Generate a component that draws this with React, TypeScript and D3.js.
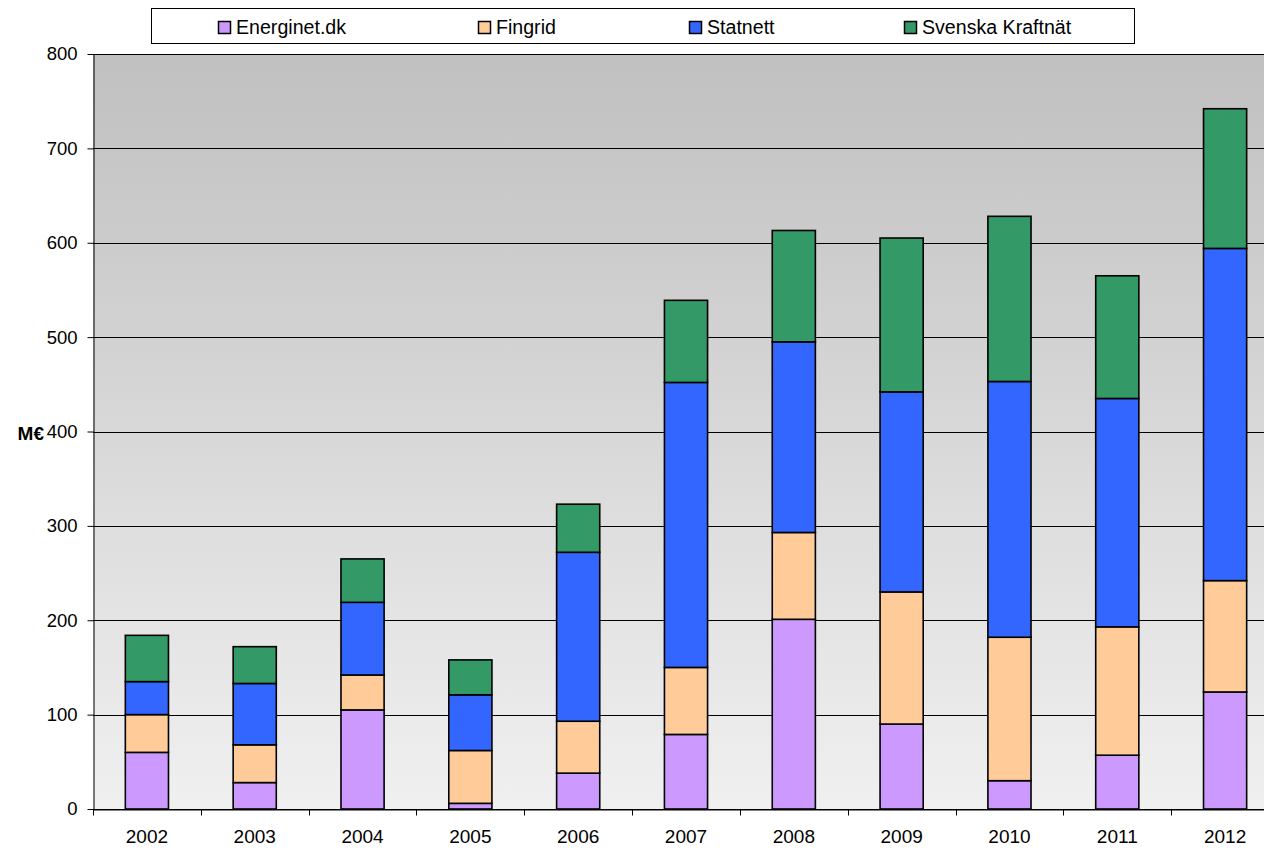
import * as d3 from 'd3';
import { useEffect, useRef } from 'react';

const width = 1264;
const height = 850;
const margin = { top: 54, left: 93, bottom: 41, right: -15 };

const years = ['2002', '2003', '2004', '2005', '2006', '2007', '2008', '2009', '2010', '2011', '2012'];
const seriesNames = ['Energinet.dk', 'Fingrid', 'Statnett', 'Svenska Kraftnät'];
const colors = ['#cc99ff', '#ffcc99', '#3366ff', '#339966'];

const energinet = [60, 28, 105, 6, 38, 79, 201, 90, 30, 57, 124];
const fingrid = [40, 40, 37, 56, 55, 71, 92, 140, 152, 136, 118];
const statnett = [35, 65, 77, 59, 179, 302, 202, 212, 271, 242, 352];
const svenska = [49, 39, 46, 37, 51, 87, 118, 163, 175, 130, 148];
const yTicks = [0, 100, 200, 300, 400, 500, 600, 700, 800];

const legendX = [218, 478, 689, 904];
const font = 'Liberation Sans, Arial, sans-serif';

function App() {
  const ref = useRef<SVGSVGElement>(null);

  useEffect(() => {
    const svg = d3.select(ref.current);
    svg.selectAll('*').remove();

    const rows = years.map((y, i) => ({
      year: y,
      'Energinet.dk': energinet[i],
      Fingrid: fingrid[i],
      Statnett: statnett[i],
      'Svenska Kraftnät': svenska[i],
    }));

    const x = d3
      .scaleBand()
      .domain(years)
      .range([margin.left, width - margin.right])
      .padding(0);
    const y = d3
      .scaleLinear()
      .domain([0, 800])
      .range([height - margin.bottom, margin.top]);

    const defs = svg.append('defs');
    const grad = defs
      .append('linearGradient')
      .attr('id', 'bg')
      .attr('x1', 0)
      .attr('y1', 0)
      .attr('x2', 0)
      .attr('y2', 1);
    grad.append('stop').attr('offset', '0%').attr('stop-color', '#c0c0c0');
    grad.append('stop').attr('offset', '100%').attr('stop-color', '#f0f0f0');

    svg
      .append('rect')
      .attr('x', margin.left)
      .attr('y', margin.top)
      .attr('width', width - margin.right - margin.left)
      .attr('height', y(0) - margin.top)
      .attr('fill', 'url(#bg)');

    // gridlines
    svg
      .append('g')
      .selectAll('line')
      .data(yTicks)
      .join('line')
      .attr('x1', margin.left)
      .attr('x2', width - margin.right)
      .attr('y1', (d) => Math.round(y(d)) + 0.5)
      .attr('y2', (d) => Math.round(y(d)) + 0.5)
      .attr('stroke', '#000')
      .attr('stroke-width', 1);

    const yAxis = svg
      .append('g')
      .attr('transform', `translate(${margin.left + 0.5},0)`)
      .call(d3.axisLeft(y).tickValues(yTicks).tickSize(6).tickPadding(10).tickSizeOuter(0));
    yAxis.select('.domain').attr('stroke', '#000');
    yAxis
      .selectAll('.tick text')
      .attr('font-size', 18.5)
      .attr('font-family', font)
      .attr('fill', '#000');

    // x axis baseline and boundary ticks
    const xAxis = svg.append('g').attr('transform', `translate(0,${Math.round(y(0)) + 0.5})`);
    xAxis
      .call(d3.axisBottom(x).tickSize(0).tickPadding(20).tickSizeOuter(0))
      .selectAll('.tick text')
      .attr('font-size', 19)
      .attr('font-family', font)
      .attr('fill', '#000');
    xAxis.select('.domain').attr('stroke', '#000');
    xAxis
      .append('g')
      .selectAll('line')
      .data(years)
      .join('line')
      .attr('x1', (d) => Math.round(x(d) || 0) + 0.5)
      .attr('x2', (d) => Math.round(x(d) || 0) + 0.5)
      .attr('y1', 0)
      .attr('y2', 6)
      .attr('stroke', '#000');

    // bars
    const stacked = d3.stack<any>().keys(seriesNames)(rows);
    const barW = x.bandwidth() * 0.4;
    svg
      .append('g')
      .selectAll('g')
      .data(stacked)
      .join('g')
      .attr('fill', (_, i) => colors[i])
      .selectAll('rect')
      .data((d) => d)
      .join('rect')
      .attr('x', (d) => (x(d.data.year) || 0) + (x.bandwidth() - barW) / 2)
      .attr('y', (d) => y(d[1]))
      .attr('width', barW)
      .attr('height', (d) => y(d[0]) - y(d[1]))
      .attr('stroke', '#000')
      .attr('stroke-width', 1.6);

    // y label
    svg
      .append('text')
      .attr('x', 44)
      .attr('y', y(400) + 8)
      .attr('text-anchor', 'end')
      .attr('font-size', 19)
      .attr('font-weight', 'bold')
      .attr('font-family', font)
      .text('M€');

    // legend
    const legend = svg.append('g');
    legend
      .append('rect')
      .attr('x', 151.5)
      .attr('y', 8.5)
      .attr('width', 983)
      .attr('height', 35)
      .attr('fill', '#fff')
      .attr('stroke', '#000');
    const items = legend
      .selectAll('g')
      .data(seriesNames)
      .join('g')
      .attr('transform', (_, i) => `translate(${legendX[i]},0)`);
    items
      .append('rect')
      .attr('x', 0.5)
      .attr('y', 21.5)
      .attr('width', 12)
      .attr('height', 12)
      .attr('fill', (_, i) => colors[i])
      .attr('stroke', '#000')
      .attr('stroke-width', 1.5);
    items
      .append('text')
      .attr('x', 18)
      .attr('y', 34)
      .attr('font-size', 19.6)
      .attr('font-family', font)
      .text((d) => d);
  }, []);

  return (
    <svg
      ref={ref}
      width={width}
      height={height}
      style={{ position: 'absolute', left: 0, top: 0, display: 'block' }}
    />
  );
}

export default App;
